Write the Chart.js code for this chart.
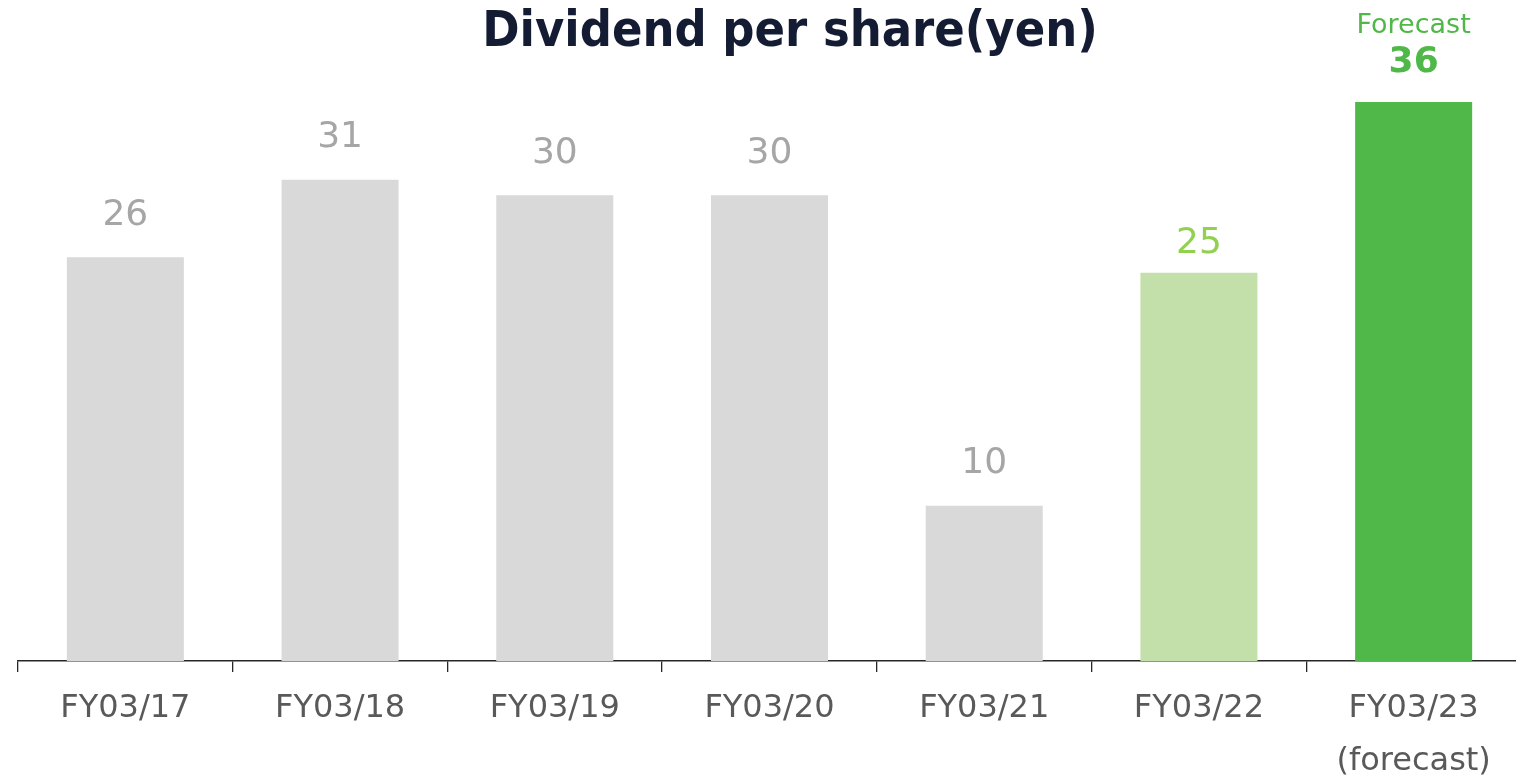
<!DOCTYPE html>
<html>
<head>
<meta charset="utf-8">
<script src="https://cdn.jsdelivr.net/npm/chart.js@4.4.1/dist/chart.umd.min.js"></script>
<style>
html, body { margin: 0; padding: 0; overflow: hidden; background: #fff; }
#wrap { width: 1522px; height: 777px; position: relative; }
</style>
</head>
<body>
<div id="wrap"><canvas id="myChart"></canvas></div>
<script>
// data
var years = ["FY03/17", "FY03/18", "FY03/19", "FY03/20", "FY03/21", "FY03/22", ["FY03/23", "(forecast)"]];
var dividend = [26, 31, 30, 30, 10, 25, 36];
var barColors = ["#d9d9d9", "#d9d9d9", "#d9d9d9", "#d9d9d9", "#d9d9d9", "#c3dfaa", "#50b848"];
var labelColors = ["#a6a6a6", "#a6a6a6", "#a6a6a6", "#a6a6a6", "#a6a6a6", "#92d050", "#50b848"];
var titleText = "Dividend per share(yen)";

var font = "'DejaVu Sans', Verdana, sans-serif";

// title is a bit right of the middle in the original, so draw it by hand
const titleDraw = {
    id: "titleDraw",
    afterDraw(chart) {
        const ctx = chart.ctx;
        ctx.save();
        ctx.font = "bold 50px 'DejaVu Sans Condensed', 'DejaVu Sans', sans-serif";
        ctx.fillStyle = "#141c33";
        ctx.textAlign = "center";
        ctx.textBaseline = "middle";
        ctx.fillText(titleText, 790, 33);
        ctx.restore();
    }
};

// value labels over the bars, the last one is the forecast
const barLabels = {
    id: "barLabels",
    afterDatasetsDraw(chart) {
        const ctx = chart.ctx;
        const meta = chart.getDatasetMeta(0);
        ctx.save();
        ctx.textAlign = "center";
        ctx.textBaseline = "middle";
        meta.data.forEach(function (bar, i) {
            ctx.fillStyle = labelColors[i];
            if (i == meta.data.length - 1) {
                ctx.font = "bold 36px " + font;
                ctx.fillText(dividend[i], bar.x, bar.y - 39);
                ctx.font = "27px " + font;
                ctx.fillText("Forecast", bar.x, bar.y - 76);
            } else {
                var gap = (i == 5) ? 29 : 42;
                ctx.font = "36px " + font;
                ctx.fillText(dividend[i], bar.x, bar.y - gap);
            }
        });
        ctx.restore();
    }
};

const config = {
    type: "bar",
    data: {
        labels: years,
        datasets: [{
            data: dividend,
            backgroundColor: barColors,
            barPercentage: 0.545,
            categoryPercentage: 1
        }]
    },
    options: {
        responsive: true,
        maintainAspectRatio: false,
        animation: false,
        layout: { padding: { left: 18, right: 1, top: 71, bottom: 0 } },
        plugins: {
            legend: { display: false },
            tooltip: { enabled: false },
            title: { display: false }
        },
        scales: {
            x: {
                afterFit: function (scale) { scale.height = 116; },
                grid: {
                    display: true,
                    drawOnChartArea: false,
                    drawTicks: true,
                    tickLength: 11,
                    color: "#262626",
                    lineWidth: 1.3
                },
                border: { display: true, color: "#262626", width: 1.5 },
                ticks: {
                    color: "#595959",
                    padding: 10,
                    maxRotation: 0,
                    autoSkip: false,
                    font: { family: font, size: 32, lineHeight: 1.65 }
                }
            },
            y: {
                display: false,
                min: 0,
                max: 38
            }
        }
    },
    plugins: [barLabels, titleDraw]
};

let myChart = new Chart(document.getElementById("myChart"), config);
</script>
</body>
</html>
